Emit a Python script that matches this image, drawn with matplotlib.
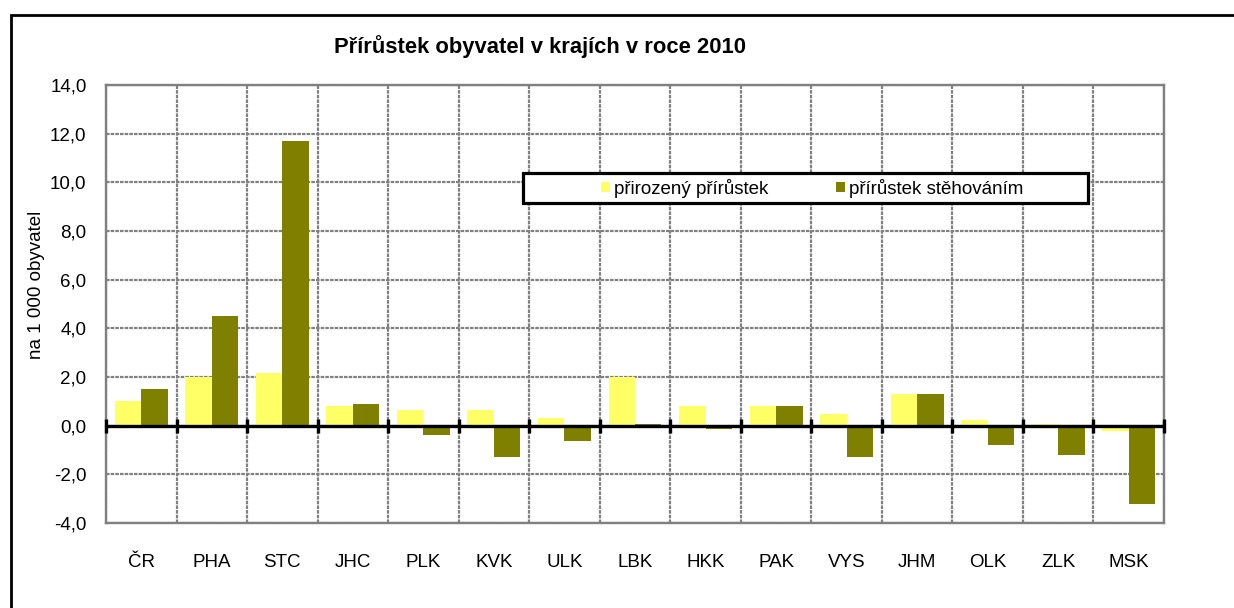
import numpy as np
import matplotlib.pyplot as plt
from matplotlib.patches import Rectangle

plt.rcParams['font.family'] = ['Liberation Sans', 'DejaVu Sans']

# kraje
regions = ['ČR', 'PHA', 'STC', 'JHC', 'PLK', 'KVK', 'ULK', 'LBK',
           'HKK', 'PAK', 'VYS', 'JHM', 'OLK', 'ZLK', 'MSK']
# na 1 000 obyvatel
natural = [1.0, 2.0, 2.15, 0.8, 0.65, 0.65, 0.3, 2.0,
           0.8, 0.8, 0.5, 1.3, 0.25, 0.05, -0.2]
migration = [1.5, 4.5, 11.7, 0.9, -0.4, -1.3, -0.65, 0.08,
             -0.15, 0.8, -1.3, 1.3, -0.8, -1.2, -3.2]
yticks = [-4, -2, 0, 2, 4, 6, 8, 10, 12, 14]

W, H = 1234, 608
fig = plt.figure(figsize=(W / 100, H / 100), dpi=100)
ax = fig.add_axes([106 / W, 1 - 523 / H, (1164 - 106) / W, (523 - 85) / H])

x = np.arange(len(regions))
bw = 0.375
ax.bar(x - bw / 2, natural, bw, color='#FFFF66', zorder=3, label='přirozený přírůstek')
ax.bar(x + bw / 2, migration, bw, color='#808000', zorder=3, label='přírůstek stěhováním')

ax.set_xlim(-0.5, len(regions) - 0.5)
ax.set_ylim(-4, 14)
ax.set_yticks(yticks)
ax.set_yticklabels(['{:.1f}'.format(v).replace('.', ',') for v in yticks])
ax.set_xticks(x)
ax.set_xticklabels(regions)
ax.set_xticks(np.arange(len(regions) + 1) - 0.5, minor=True)
ax.tick_params(axis='both', which='both', length=0, labelsize=13.5)
ax.tick_params(axis='x', pad=22)
ax.tick_params(axis='y', pad=14)

ax.grid(True, which='major', axis='y', color='#808080', ls=(0, (1.6, 0.5)), lw=1.6, zorder=1)
ax.grid(True, which='minor', axis='x', color='#808080', ls=(0, (1.6, 0.5)), lw=1.6, zorder=1)
for s in ax.spines.values():
    s.set_color('#808080')
    s.set_linewidth(1.7)

# zero line with category ticks
ax.axhline(0, color='black', lw=2.4, zorder=4)
bounds = np.arange(len(regions) + 1) - 0.5
ax.plot(bounds, np.zeros(len(bounds)), ls='none', marker='|', ms=10, mew=2.4,
        color='black', zorder=5, clip_on=False)

fig.text(540 / W, 1 - 47 / H, 'Přírůstek obyvatel v krajích v roce 2010',
         ha='center', va='center', fontsize=15.8, fontweight='bold')
fig.text(37 / W, 1 - 285 / H, 'na 1 000 obyvatel', rotation=90,
         ha='center', va='center', fontsize=13.5)

leg = fig.legend(loc='center left', bbox_to_anchor=(601 / W, 1 - 188 / H), ncol=2,
                 frameon=False, fontsize=13.5, handlelength=0.5, handleheight=0.5,
                 handletextpad=0.2, columnspacing=3.6, borderpad=0, borderaxespad=0)
fig.patches.append(Rectangle((523 / W, 1 - 203 / H), (1088 - 523) / W, 30 / H,
                             transform=fig.transFigure, fill=True, facecolor='white',
                             edgecolor='black', lw=2.3, zorder=0))
leg.set_zorder(10)

# outer frame
fig.patches.append(Rectangle((11 / W, -0.1), 1.2, 1.1 - 15 / H,
                             transform=fig.transFigure, fill=False,
                             edgecolor='black', lw=2))

fig.savefig('out.png', dpi=100)
